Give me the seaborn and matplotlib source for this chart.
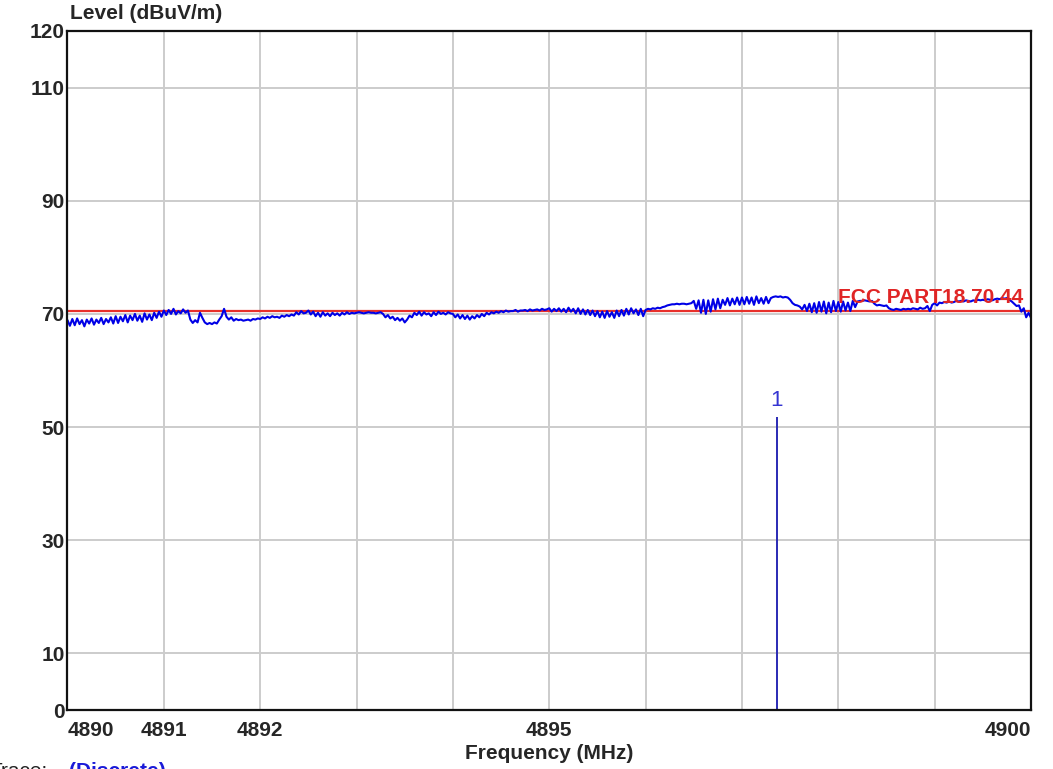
import numpy as np
import matplotlib.pyplot as plt
import seaborn as sns

# sweep 4890 - 4900 MHz, one reading every 25 kHz
level = [
    68.9, 67.9, 69.1, 68.0, 69.2, 68.2, 68.9, 67.8, 69.0, 68.3,
    69.2, 68.1, 69.0, 68.4, 69.3, 68.2, 69.1, 68.5, 69.4, 68.3,
    69.6, 68.4, 69.5, 68.7, 69.8, 68.5, 69.7, 68.9, 70.0, 68.8,
    69.7, 68.6, 70.1, 69.0, 69.9, 68.9, 70.2, 69.3, 70.4, 69.5,
    70.6, 69.8, 70.7, 70.0, 70.9, 69.9, 70.5, 70.1, 70.8, 70.2,
    70.6, 69.0, 68.4, 68.9, 68.5, 70.2, 69.3, 68.5, 68.2, 68.4,
    68.2, 68.5, 68.3, 69.0, 69.6, 70.9, 69.5, 69.0, 69.4, 68.8,
    69.1, 68.9, 69.0, 68.8, 68.9, 69.0, 68.8, 69.1, 69.0, 69.2,
    69.1, 69.4, 69.2, 69.5, 69.3, 69.6, 69.4, 69.5, 69.3, 69.7,
    69.5, 69.8, 69.6, 69.9, 69.7, 70.3, 69.9, 70.5, 70.1, 70.2,
    70.6, 69.9, 70.4, 69.6, 70.2, 69.5, 70.3, 69.7, 70.1, 69.6,
    70.2, 69.8, 70.1, 69.7, 70.2, 69.9, 70.3, 70.0, 70.2, 70.1,
    70.2, 70.3, 70.2, 70.1, 70.2, 70.3, 70.2, 70.2, 70.1, 70.2,
    70.3, 70.0, 69.4, 69.8, 69.2, 69.5, 68.9, 69.3, 68.8, 69.2,
    68.5, 69.0, 69.7, 69.4, 70.2, 69.8, 70.4, 69.7, 70.3, 69.9,
    70.1, 69.6, 70.3, 69.8, 70.4, 70.0, 70.2, 69.9, 70.3, 70.1,
    70.0, 69.4, 69.9, 69.2, 69.8, 69.1, 69.7, 69.0, 69.6, 69.2,
    69.8, 69.4, 70.0, 69.6, 70.2, 69.9, 70.3, 70.1, 70.4, 70.2,
    70.5, 70.3, 70.6, 70.4, 70.5, 70.5, 70.7, 70.4, 70.6, 70.6,
    70.7, 70.5, 70.8, 70.6, 70.7, 70.8, 70.6, 70.9, 70.7, 70.8,
    71.0, 70.4, 70.9, 70.5, 71.0, 70.4, 70.9, 70.3, 71.1, 70.4,
    70.9, 70.1, 71.0, 70.0, 70.8, 69.9, 70.7, 69.8, 70.6, 69.6,
    70.5, 69.4, 70.4, 69.3, 70.5, 69.5, 70.3, 69.3, 70.6, 69.6,
    70.7, 69.7, 70.9, 69.9, 71.0, 70.1, 70.8, 69.8, 70.9, 69.6,
    70.7, 70.9, 70.8, 71.0, 70.9, 71.1, 71.0, 71.2, 71.3, 71.5,
    71.6, 71.7, 71.7, 71.8, 71.7, 71.8, 71.8, 71.7, 71.8, 71.9,
    72.3, 70.9, 72.4, 70.2, 72.5, 70.0, 72.4, 70.4, 72.6, 70.8,
    72.7, 71.0, 72.5, 71.6, 72.8, 71.5, 72.7, 71.7, 72.9, 71.6,
    72.9, 71.7, 73.0, 71.8, 72.9, 71.6, 73.1, 71.9, 72.8, 71.8,
    73.0, 71.9, 72.8, 73.0, 73.1, 73.0, 73.1, 72.9, 73.0, 72.9,
    72.5, 71.9, 71.6, 71.5, 71.3, 70.8, 71.6, 70.5, 71.8, 70.3,
    71.9, 70.2, 72.1, 70.4, 72.2, 70.1, 72.0, 70.3, 72.3, 70.5,
    72.1, 70.4, 72.2, 70.6, 72.0, 70.5, 72.3, 71.2, 72.2, 72.3,
    72.3, 72.4, 72.3, 72.2, 72.3, 71.8, 71.5, 71.6, 71.5, 71.4,
    71.5, 71.0, 70.8, 70.7, 70.9, 70.8, 70.7, 70.9, 70.8, 70.9,
    70.8, 71.0, 70.9, 70.8, 71.1, 70.9, 71.0, 71.4, 70.5, 71.6,
    71.9, 71.5, 72.0, 71.9, 72.1, 72.0, 72.2, 72.0, 72.1, 72.3,
    72.2, 72.3, 72.2, 72.4, 72.3, 72.2, 72.4, 72.3, 72.5, 72.4,
    72.5, 72.4, 72.6, 72.5, 72.4, 72.6, 72.7, 72.6, 72.8, 72.7,
    72.8, 72.5, 72.2, 71.8, 71.4, 71.5, 70.4, 71.0, 69.4, 70.2, 69.3,
]
freq = np.linspace(4890, 4900, len(level))

limit_level = 70.44
limit_label = "FCC PART18.70.44"
marker_freq = 4897.36
marker_level = 51.8
marker_name = "1"

x_ticks = [4890, 4891, 4892, 4895, 4900]
x_grid = list(range(4890, 4901))
y_ticks = [0, 10, 30, 50, 70, 90, 110, 120]

sns.set_theme(style="white")
plt.rcParams['font.family'] = ['Liberation Sans', 'DejaVu Sans']

fig = plt.figure(figsize=(10.53, 7.69), dpi=100)
ax = fig.add_axes([0.0641, 0.0767, 0.915, 0.883])

sns.lineplot(x=freq, y=level, ax=ax, color="#0000e6", lw=1.5, estimator=None, sort=False)
ax.axhline(limit_level, color="#e8302a", lw=1.6, zorder=1)
ax.text(4899.92, limit_level + 0.8, limit_label, color="#e02525", fontsize=15,
        fontweight="semibold", ha="right", va="bottom")

ax.vlines(marker_freq, 0, marker_level, color="#2a2ab4", lw=1.4)
ax.text(marker_freq, marker_level + 1.0, marker_name, color="#3535d2", fontsize=16,
        ha="center", va="bottom")

ax.set_xlim(4890, 4900)
ax.set_ylim(0, 120)
ax.set_xticks(x_ticks)
ax.set_xticks(x_grid, minor=True)
ax.set_yticks(y_ticks)
ax.grid(True, which="both", color="#cccccc", lw=1.4)
ax.set_axisbelow(True)
ax.tick_params(length=0, labelsize=15, pad=2)
ax.tick_params(axis="x", pad=8)
for lab in ax.get_xticklabels() + ax.get_yticklabels():
    lab.set_fontweight("bold")
xl = ax.get_xticklabels()
xl[0].set_ha("left")
xl[-1].set_ha("right")
for s in ax.spines.values():
    s.set_color("#111111")
    s.set_linewidth(1.6)

ax.set_xlabel("Frequency (MHz)", fontsize=15, fontweight="bold", labelpad=3)
ax.set_ylabel("")
ax.text(0.003, 1.012, "Level (dBuV/m)", transform=ax.transAxes, fontsize=15,
        fontweight="bold", ha="left", va="bottom")

fig.text(-0.0095, 0.009, "Trace:", fontsize=15, color="#222222", ha="left", va="top")
fig.text(0.066, 0.009, "(Discrete)", fontsize=15, color="#1a1ad8", fontweight="bold",
         ha="left", va="top")

fig.savefig("out.png", dpi=100)
